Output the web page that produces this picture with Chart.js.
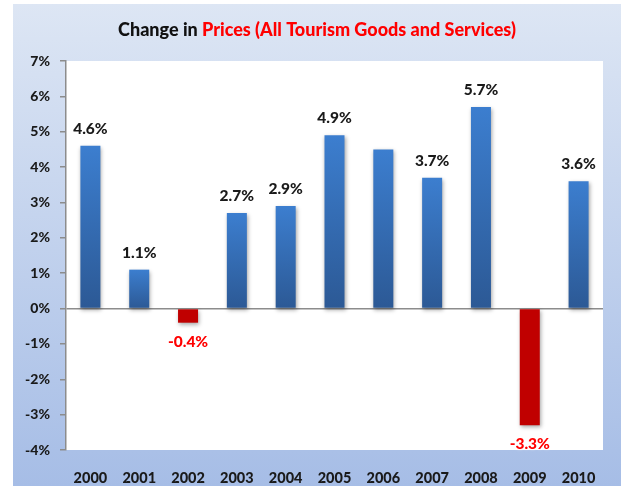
<!DOCTYPE html>
<html>
<head>
<meta charset="utf-8">
<script src="https://cdn.jsdelivr.net/npm/chart.js@4/dist/chart.umd.min.js"></script>
<style>
html,body{margin:0;padding:0;background:#fff;}
#wrap{width:621px;height:486px;position:relative;}
</style>
</head>
<body>
<div id="wrap"><canvas id="c" width="621" height="486"></canvas></div>
<script>
const years = ['2000','2001','2002','2003','2004','2005','2006','2007','2008','2009','2010'];
const changePct = [4.6, 1.1, -0.4, 2.7, 2.9, 4.9, 4.5, 3.7, 5.7, -3.3, 3.6];
const showLabel = [true, true, true, true, true, true, false, true, true, true, true];
const yTicks = [-4, -3, -2, -1, 0, 1, 2, 3, 4, 5, 6, 7];

const FONT = 'Lato, "Open Sans", sans-serif';

const bgPlugin = {
  id: 'bg',
  beforeDraw(chart) {
    const ctx = chart.ctx;
    const w = chart.width, h = chart.height;
    ctx.save();
    ctx.fillStyle = '#ffffff';
    ctx.fillRect(0, 0, w, h);
    const g = ctx.createLinearGradient(0, 4, 0, h);
    g.addColorStop(0, '#dde6f4');
    g.addColorStop(1, '#a6bde6');
    ctx.fillStyle = g;
    ctx.fillRect(13, 4, w - 13, h - 4);
    const a = chart.chartArea;
    ctx.fillStyle = '#ffffff';
    ctx.fillRect(a.left, a.top, a.right - a.left, a.bottom - a.top);
    // title
    ctx.font = '900 18px ' + FONT;
    ctx.textBaseline = 'middle';
    const p1 = 'Change in ', p2 = 'Prices (All Tourism Goods and Services)';
    const w1 = ctx.measureText(p1).width, w2 = ctx.measureText(p2).width;
    const x0 = 317 - (w1 + w2) / 2;
    ctx.textAlign = 'left';
    ctx.fillStyle = '#111111';
    ctx.fillText(p1, x0, 30);
    ctx.fillStyle = '#ff0000';
    ctx.fillText(p2, x0 + w1, 30);
    ctx.restore();
  },
  beforeDatasetsDraw(chart) {
    const ctx = chart.ctx;
    ctx.save();
    ctx.shadowColor = 'rgba(0,0,0,0.35)';
    ctx.shadowBlur = 4;
    ctx.shadowOffsetX = 1;
    ctx.shadowOffsetY = 2;
  },
  afterDatasetsDraw(chart) {
    const ctx = chart.ctx;
    ctx.restore();
    ctx.save();
    const meta = chart.getDatasetMeta(0);
    ctx.font = '900 15.5px ' + FONT;
    ctx.textAlign = 'center';
    ctx.textBaseline = 'middle';
    meta.data.forEach((bar, i) => {
      if (!showLabel[i]) return;
      const v = changePct[i];
      const txt = v.toFixed(1) + '%';
      let y;
      if (v >= 0) { y = bar.y - 17; ctx.fillStyle = '#1a1a1a'; }
      else { y = bar.y + 19; ctx.fillStyle = '#ff0000'; }
      ctx.shadowColor = 'rgba(255,255,255,0.9)';
      ctx.shadowBlur = 3;
      ctx.fillText(txt, bar.x, y);
    });
    ctx.restore();
  }
};

new Chart(document.getElementById('c'), {
  type: 'bar',
  data: {
    labels: years,
    datasets: [{
      data: changePct,
      backgroundColor(c) {
        const v = c.raw;
        if (v < 0) return '#c00000';
        const chart = c.chart;
        if (!chart.chartArea || !chart.scales.y) return '#3a74c0';
        const ys = chart.scales.y;
        const top = ys.getPixelForValue(v), bot = ys.getPixelForValue(0);
        const g = chart.ctx.createLinearGradient(0, top, 0, bot);
        g.addColorStop(0, '#3c7ecf');
        g.addColorStop(1, '#2c5995');
        return g;
      },
      borderWidth: 0,
      barPercentage: 0.41,
      categoryPercentage: 1.0
    }]
  },
  options: {
    responsive: false,
    animation: false,
    devicePixelRatio: 1,
    layout: { padding: { top: 61, right: 18, bottom: 0, left: 0 } },
    plugins: { legend: { display: false }, tooltip: { enabled: false }, title: { display: false } },
    scales: {
      x: {
        grid: { display: false },
        border: { display: false },
        ticks: { color: '#1a1a1a', font: { family: FONT, size: 14.5, weight: '900' }, padding: 12 },
        afterFit(s) { s.height = 36; }
      },
      y: {
        min: -4, max: 7,
        afterBuildTicks(s) { s.ticks = yTicks.map(v => ({ value: v })); },
        grid: {
          drawOnChartArea: true,
          color(c) { return c.tick && c.tick.value === 0 ? '#8c8c8c' : 'rgba(0,0,0,0)'; },
          tickColor: '#8c8c8c',
          tickLength: 6,
          lineWidth: 1.5
        },
        border: { display: true, color: '#8c8c8c', width: 1.5 },
        ticks: {
          color: '#1a1a1a',
          font: { family: FONT, size: 14, weight: '900' },
          padding: 10,
          callback(v) { return v + '%'; }
        },
        afterFit(s) { s.width = 66; }
      }
    }
  },
  plugins: [bgPlugin]
});
</script>
</body>
</html>
